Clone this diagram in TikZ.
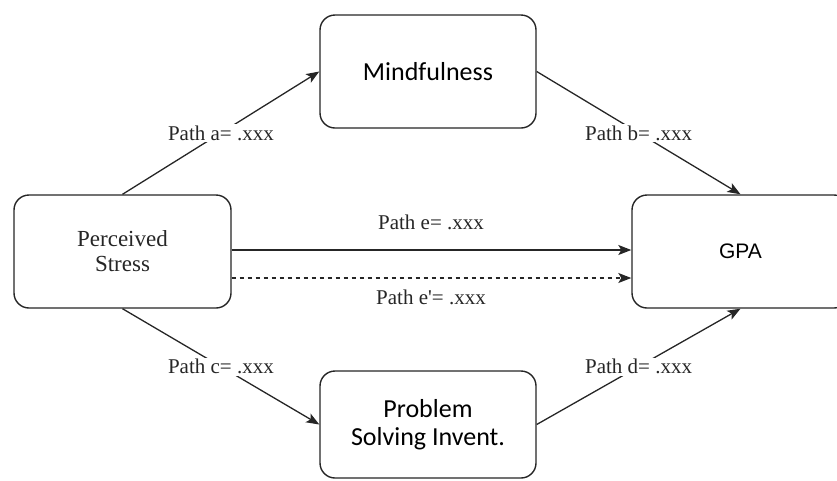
\documentclass[tikz,border=0pt]{standalone}
\usepackage{fontspec}
\newfontfamily\serfont{Liberation Serif}
\newfontfamily\calfont{Carlito}
\newfontfamily\arialfont{Liberation Sans}
\usetikzlibrary{arrows.meta}
\begin{document}
\begin{tikzpicture}[x=1pt,y=-1pt,
  box/.style={draw=black!85,line width=1.4pt,rounded corners=15pt,fill=white,align=center,inner sep=0pt},
  conn/.style={draw=black!85,line width=1.3pt,-{Stealth[length=13pt,width=10pt,inset=3pt]}},
  lab/.style={fill=white,inner sep=1.5pt,font=\serfont\fontsize{21}{24}\selectfont,text=black!85}]
\useasboundingbox (0,0) rectangle (837,480);
\node[box,minimum width=217pt,minimum height=113pt,font=\serfont\fontsize{23}{25}\selectfont,text=black!85] (ps) at (122.5,251.5) {\serfont Perceived\\\serfont Stress};
\node[box,minimum width=216pt,minimum height=113pt,font=\calfont\fontsize{26}{28}\selectfont] (mf) at (428,71.5) {Mindfulness};
\node[box,minimum width=217pt,minimum height=113pt,font=\arialfont\fontsize{21}{24}\selectfont] (gpa) at (740.5,251.5) {GPA};
\node[box,minimum width=216pt,minimum height=107pt,font=\calfont\fontsize{26}{28}\selectfont] (psi) at (428,424.5) {Problem\\Solving Invent.};
\draw[conn] (ps.north) -- node[lab] (la) {Path a= .xxx} (mf.west);
\draw[conn] (mf.east) -- node[lab] (lb) {Path b= .xxx} (gpa.north);
\draw[conn] (ps.south) -- node[lab] (lc) {Path c= .xxx} (psi.west);
\draw[conn] (psi.east) -- node[lab] (ld) {Path d= .xxx} (gpa.south);
\draw[conn] (ps.east |- 0,250) -- (gpa.west |- 0,250);
\draw[conn,dash pattern=on 4pt off 4pt] (ps.east |- 0,278) -- (gpa.west |- 0,278);
\node[lab] (le) at (431,222) {Path e= .xxx};
\node[lab] (lep) at (431,297) {Path e'= .xxx};
\end{tikzpicture}
\end{document}
